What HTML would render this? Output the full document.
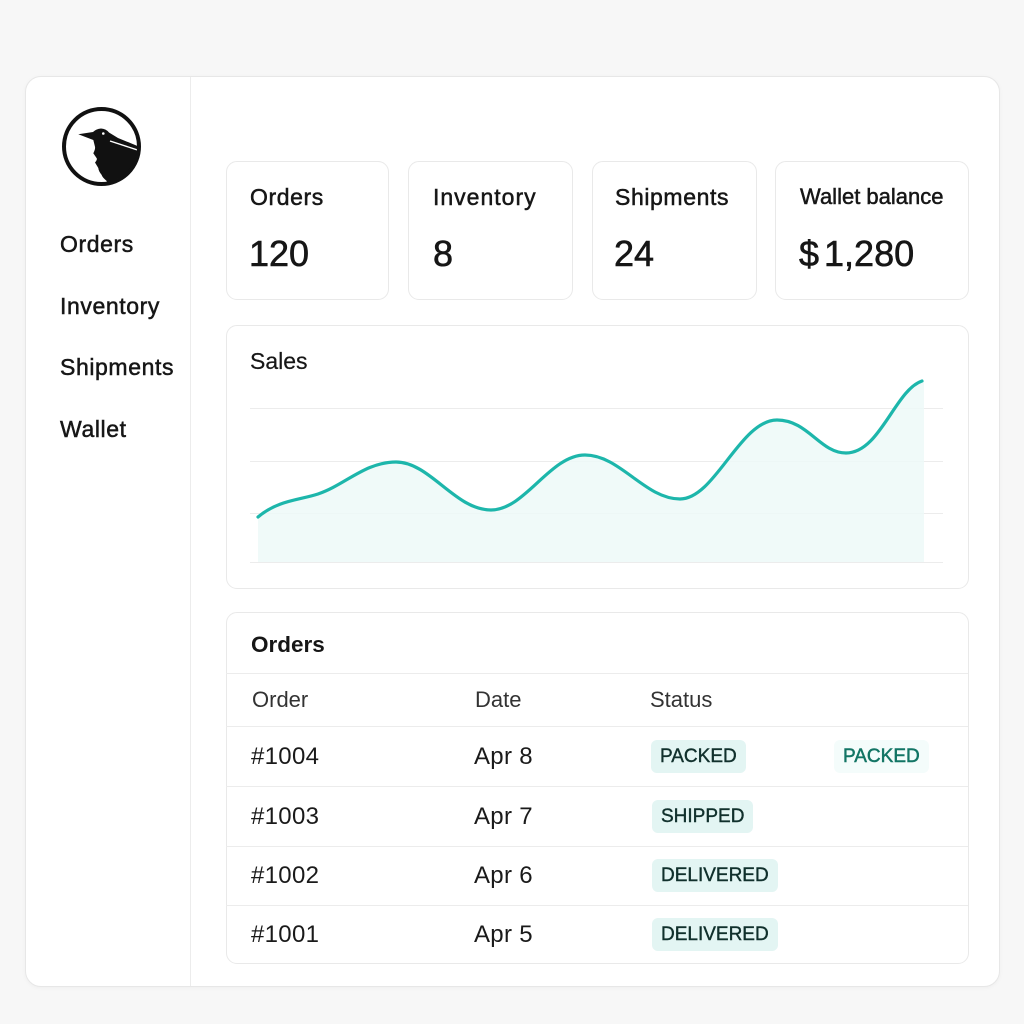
<!DOCTYPE html>
<html><head><meta charset="utf-8">
<style>
*{margin:0;padding:0;box-sizing:border-box}
body{width:1024px;height:1024px;background:#f7f7f7;font-family:"Liberation Sans",sans-serif;color:#161616;position:relative;overflow:hidden}
.abs{position:absolute}
.main{left:25px;top:76px;width:975px;height:911px;background:#fff;border:1px solid #e7e7e7;border-radius:16px;box-shadow:0 1px 4px rgba(0,0,0,0.04)}
.vdiv{left:190px;top:77px;width:1px;height:909px;background:#ececec}
.nav{left:60px;font-size:23px;line-height:26px;letter-spacing:0.6px;-webkit-text-stroke:0.5px #161616;white-space:nowrap}
.card{background:#fff;border:1px solid #e9e9e9;border-radius:11px}
.lbl{font-size:23px;line-height:26px;letter-spacing:0.6px;-webkit-text-stroke:0.5px #161616;white-space:nowrap}
.val{font-size:36px;line-height:40px;-webkit-text-stroke:0.6px #161616;white-space:nowrap}
.hline{height:1px;background:#ececec;left:226px;width:742px}
.cell{font-size:24px;line-height:28px;color:#1a1a1a;letter-spacing:0.3px;white-space:nowrap}
.th{font-size:22px;line-height:24px;color:#333;white-space:nowrap}
.badge{height:33px;line-height:33px;border-radius:6px;background:#e3f5f3;color:#10302c;font-size:19px;padding:0 9px;white-space:nowrap;-webkit-text-stroke:0.4px #10302c}
</style></head><body>
<div class="abs main"></div>
<div class="abs vdiv"></div>

<svg class="abs" style="left:60px;top:105px" width="84" height="84" viewBox="60 105 84 84">
<defs><clipPath id="cc"><circle cx="101.5" cy="146.5" r="36"/></clipPath></defs>
<g clip-path="url(#cc)">
<path d="M78.3,134.3 L93,132 Q96,129 101,128.5 Q106,128.8 109,132.5 L118,138 L140,147 L140,190 L108,190 L106.7,181 Q102,177 101.7,175 Q98.5,171 98.3,168 L95,162.5 Q97.5,159.5 96.7,158.3 L93.3,153.3 Q95.5,149 95,146.7 L93.3,140 Z" fill="#111"/>
<line x1="110" y1="141" x2="139" y2="150.5" stroke="#fff" stroke-width="1.4"/>
<circle cx="103.3" cy="133.5" r="1.3" fill="#fff"/>
</g>
<circle cx="101.5" cy="146.5" r="37.5" fill="none" stroke="#111" stroke-width="4"/>
</svg>

<div class="abs nav" style="top:231px">Orders</div>
<div class="abs nav" style="top:293px">Inventory</div>
<div class="abs nav" style="top:354px">Shipments</div>
<div class="abs nav" style="top:416px">Wallet</div>

<!-- stat cards -->
<div class="abs card" style="left:226px;top:161px;width:163px;height:139px"></div>
<div class="abs card" style="left:408px;top:161px;width:165px;height:139px"></div>
<div class="abs card" style="left:592px;top:161px;width:165px;height:139px"></div>
<div class="abs card" style="left:775px;top:161px;width:194px;height:139px"></div>

<div class="abs lbl" style="left:250px;top:184px">Orders</div>
<div class="abs val" style="left:249px;top:234px">120</div>
<div class="abs lbl" style="left:433px;top:184px;letter-spacing:1px">Inventory</div>
<div class="abs val" style="left:433px;top:234px">8</div>
<div class="abs lbl" style="left:615px;top:184px">Shipments</div>
<div class="abs val" style="left:614px;top:234px">24</div>
<div class="abs lbl" style="left:800px;top:184px;font-size:22px;letter-spacing:0">Wallet balance</div>
<div class="abs val" style="left:799px;top:234px">$<span style="margin-left:5px">1,280</span></div>

<!-- sales card -->
<div class="abs card" style="left:226px;top:325px;width:743px;height:264px"></div>
<div class="abs" style="left:250px;top:348px;font-size:23px;line-height:26px;white-space:nowrap;-webkit-text-stroke:0.2px #161616">Sales</div>
<svg class="abs" style="left:0;top:0" width="1024" height="1024">
<g stroke="#ececec" stroke-width="1">
<line x1="250" y1="408.5" x2="943" y2="408.5"/>
<line x1="250" y1="461.5" x2="943" y2="461.5"/>
<line x1="250" y1="513.5" x2="943" y2="513.5"/>
<line x1="250" y1="562.5" x2="943" y2="562.5"/>
</g>
<path d="M258,517 C278,500 300,500 318,494 C345,485 365,462 396,462 C430,462 455,510 491,510 C525,510 550,455 585,455 C620,455 645,499 680,499 C715,499 740,420 777,420 C808,420 820,453 846,453 C880,453 895,390 922,381 L924,381 L924,562 L258,562 Z" fill="#edf9f8" opacity="0.85"/>
<path d="M258,517 C278,500 300,500 318,494 C345,485 365,462 396,462 C430,462 455,510 491,510 C525,510 550,455 585,455 C620,455 645,499 680,499 C715,499 740,420 777,420 C808,420 820,453 846,453 C880,453 895,390 922,381" fill="none" stroke="#1db6ab" stroke-width="3.2" stroke-linecap="round"/>
</svg>

<!-- orders table -->
<div class="abs card" style="left:226px;top:612px;width:743px;height:352px"></div>
<div class="abs" style="left:251px;top:632px;font-size:22.5px;line-height:26px;font-weight:bold;white-space:nowrap">Orders</div>
<div class="abs hline" style="top:673px"></div>
<div class="abs th" style="left:252px;top:688px">Order</div>
<div class="abs th" style="left:475px;top:688px">Date</div>
<div class="abs th" style="left:650px;top:688px">Status</div>
<div class="abs hline" style="top:726px"></div>

<div class="abs cell" style="left:251px;top:743px">#1004</div>
<div class="abs cell" style="left:474px;top:743px">Apr 8</div>
<div class="abs badge" style="left:651px;top:740px">PACKED</div>
<div class="abs badge" style="left:834px;top:740px;background:#f4fcfb;color:#137565;-webkit-text-stroke:0.5px #137565">PACKED</div>
<div class="abs hline" style="top:786px"></div>

<div class="abs cell" style="left:251px;top:803px">#1003</div>
<div class="abs cell" style="left:474px;top:803px">Apr 7</div>
<div class="abs badge" style="left:652px;top:800px">SHIPPED</div>
<div class="abs hline" style="top:846px"></div>

<div class="abs cell" style="left:251px;top:862px">#1002</div>
<div class="abs cell" style="left:474px;top:862px">Apr 6</div>
<div class="abs badge" style="left:652px;top:859px">DELIVERED</div>
<div class="abs hline" style="top:905px"></div>

<div class="abs cell" style="left:251px;top:921px">#1001</div>
<div class="abs cell" style="left:474px;top:921px">Apr 5</div>
<div class="abs badge" style="left:652px;top:918px">DELIVERED</div>
</body></html>
